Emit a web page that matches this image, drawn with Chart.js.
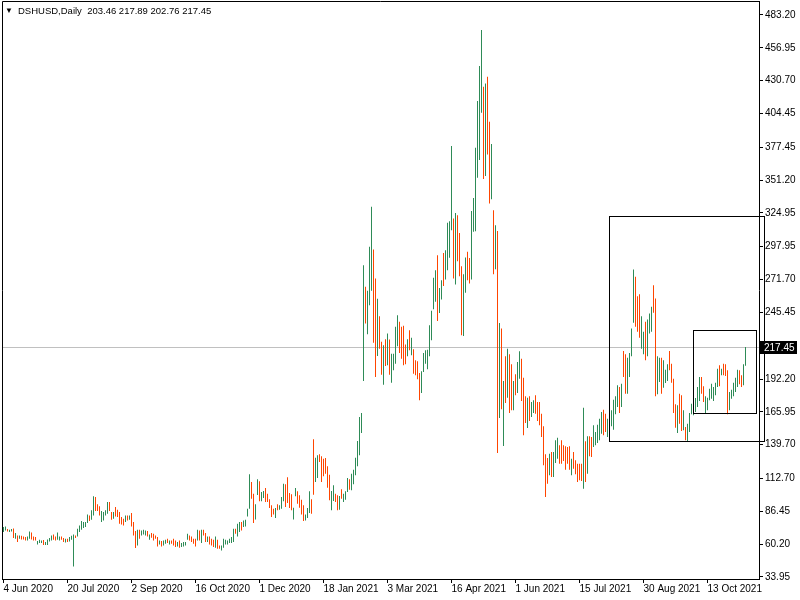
<!DOCTYPE html>
<html>
<head>
<meta charset="utf-8">
<script src="https://cdn.jsdelivr.net/npm/chart.js@4.4.1/dist/chart.umd.min.js"></script>
<style>
  html, body { margin: 0; padding: 0; background: #fff; }
  canvas { display: block; }
</style>
</head>
<body>
<canvas id="chart" width="800" height="600"></canvas>
<script>
// DSHUSD daily bars (weekdays only)
const symbol = "DSHUSD,Daily";

const highs = [
  73.9,74.4,72.3,71.7,72.3,72.8,69.1,67.2,67.2,66.9,66.4,65.9,66.4,70.4,69.6,66.4,
  65.9,62.7,63.7,63.2,63.5,61.9,64.0,65.1,67.2,68.0,66.4,69.6,66.4,66.4,65.1,64.5,
  64.5,65.9,66.9,68.0,67.2,72.5,75.2,78.7,77.9,77.9,84.0,83.2,87.2,98.4,97.9,92.0,
  90.4,86.7,85.9,87.2,93.9,93.9,85.9,85.9,89.9,87.7,85.9,81.9,80.5,83.2,83.2,83.2,
  85.1,77.9,70.7,71.7,71.7,71.2,71.7,71.2,70.7,68.0,69.1,68.5,67.2,65.9,63.2,62.7,
  63.2,63.7,64.5,63.2,63.2,64.5,63.2,61.9,63.2,61.1,61.9,61.9,68.5,67.2,66.4,64.5,
  64.5,71.7,71.2,71.7,71.7,69.1,66.4,66.4,64.5,63.7,66.4,63.7,59.2,59.2,64.5,63.7,
  63.2,64.5,65.9,72.5,72.5,76.5,77.9,77.9,79.2,79.7,88.5,116.0,109.9,100.5,92.0,112.0,
  110.5,101.9,102.7,105.1,100.5,96.0,91.2,88.5,89.1,92.0,91.2,97.9,108.5,108.0,113.6,101.1,
  100.0,89.3,105.1,102.4,99.2,95.7,91.2,84.0,89.1,102.4,96.0,144.0,129.3,131.2,132.0,130.4,
  128.5,129.1,122.4,115.7,102.7,107.2,100.5,99.2,98.7,104.0,100.5,102.4,113.1,112.0,116.5,119.7,
  129.3,142.7,161.9,165.1,283.2,265.9,262.7,297.9,329.9,295.7,272.5,256.3,242.4,221.9,219.2,224.0,
  228.5,223.7,212.5,212.5,233.9,243.2,237.9,233.9,234.7,219.7,224.0,231.2,225.1,216.0,207.2,206.4,
  197.1,198.4,213.1,215.2,215.7,235.2,246.7,273.1,279.2,291.2,265.0,271.2,293.0,295.2,317.1,318.4,
  378.4,320.5,325.0,323.2,309.0,282.4,276.0,289.3,293.9,289.0,326.6,337.0,377.1,414.4,442.4,471.2,
  425.9,428.5,433.9,397.9,380.0,327.2,315.2,310.6,237.0,232.5,190.7,210.4,216.5,212.0,204.0,190.7,
  196.0,205.9,214.4,208.5,193.3,178.4,177.3,178.4,173.9,175.2,179.2,173.9,173.9,164.5,154.4,132.0,
  129.1,132.5,133.9,133.9,143.2,145.3,139.2,143.2,139.2,138.4,137.9,138.4,128.5,133.9,127.2,124.5,
  124.5,124.5,169.3,142.4,146.4,146.4,145.9,155.2,149.9,155.7,160.5,165.9,167.7,164.5,160.5,164.0,
  167.2,175.7,178.4,187.2,185.9,188.5,214.7,212.0,209.3,213.1,232.5,279.7,273.9,258.4,260.0,242.4,
  229.9,237.9,239.7,244.5,249.9,267.2,256.5,210.4,209.3,209.3,207.2,199.7,204.0,214.7,204.5,192.5,
  172.0,171.2,180.5,179.2,167.2,153.9,156.5,165.1,172.5,175.2,177.1,185.9,193.9,193.9,186.4,178.4,
  177.3,184.5,188.5,185.9,189.3,200.5,203.2,200.5,204.5,204.0,199.2,181.9,183.7,189.3,193.3,199.7,
  199.2,195.2,204.0,217.89
];

const lows = [
  69.9,71.2,70.4,69.9,70.4,65.1,64.5,61.9,64.5,64.0,64.0,63.2,63.2,64.5,64.0,63.2,
  63.2,60.0,61.1,61.1,59.5,59.5,59.5,62.4,63.2,63.7,63.2,63.7,63.2,63.7,61.9,61.6,
  61.9,62.4,63.7,42.4,65.1,66.4,69.9,71.7,73.1,73.9,77.1,78.7,79.7,83.2,86.7,86.7,
  83.2,77.9,79.2,83.2,84.5,86.7,79.7,80.5,82.4,81.9,76.5,76.0,75.2,77.9,79.2,79.7,
  74.4,67.2,57.1,59.2,64.5,67.2,68.0,67.2,66.4,63.7,65.3,63.2,64.5,58.4,60.0,58.4,
  59.2,60.5,61.1,60.0,60.5,59.2,57.9,58.4,57.3,57.9,58.4,59.2,63.7,63.2,61.9,60.5,
  58.4,63.2,63.2,61.1,67.2,61.9,61.9,60.0,59.2,57.9,57.3,56.5,56.5,55.2,57.3,60.0,
  60.0,61.1,61.1,61.9,68.5,66.4,69.9,71.2,73.9,74.4,82.4,88.5,96.5,77.1,80.0,99.5,
  94.5,94.4,97.1,93.9,93.9,89.1,81.9,84.0,81.1,87.2,87.7,88.5,94.4,89.9,93.1,89.1,
  87.2,80.0,98.4,92.5,89.3,84.0,78.7,79.2,81.1,85.1,84.5,99.7,109.9,113.1,125.9,109.9,
  114.4,116.5,105.3,95.2,87.2,94.7,93.9,87.2,87.7,96.5,93.9,95.7,101.9,103.7,103.2,108.0,
  115.2,122.4,131.2,149.1,190.7,236.5,228.0,251.2,262.7,221.1,193.9,210.7,216.5,195.7,187.7,202.7,
  203.2,195.7,189.3,199.2,204.5,218.4,213.1,208.5,203.2,204.0,210.4,215.2,211.2,196.5,195.2,192.0,
  175.2,181.1,197.9,204.5,200.0,210.4,223.2,248.0,253.9,238.6,245.0,255.7,266.6,271.7,279.2,289.1,
  311.2,272.5,267.7,286.4,274.4,227.2,226.6,261.1,271.2,268.5,271.7,309.9,310.4,353.1,367.2,405.1,
  352.0,354.4,371.7,332.5,336.0,276.0,280.0,133.1,161.0,168.0,138.7,173.1,177.3,165.1,167.2,167.2,
  179.2,181.1,192.5,174.7,147.2,157.1,153.1,158.7,161.9,165.1,164.5,158.7,155.2,145.9,123.2,97.9,
  108.5,115.2,113.9,113.9,125.1,128.5,124.5,124.5,126.7,119.7,124.5,119.7,115.2,120.5,116.0,109.9,
  111.2,110.7,104.5,109.9,116.5,130.4,129.9,137.9,139.2,141.1,143.2,148.5,147.2,149.9,145.9,149.9,
  154.4,151.7,164.0,169.9,165.1,169.9,193.9,180.5,180.5,193.9,210.4,237.1,233.9,229.9,225.1,216.5,
  212.0,207.2,210.4,228.5,229.9,245.1,178.4,180.0,189.9,180.5,185.3,189.1,190.7,199.2,189.3,165.1,
  153.3,149.1,156.5,150.7,151.2,143.2,141.9,149.9,164.0,163.2,165.9,169.9,174.7,180.5,173.9,165.1,
  167.2,175.2,176.5,174.7,179.2,185.9,186.4,195.2,195.2,194.7,164.0,167.2,176.5,178.4,181.9,185.9,
  188.0,185.9,187.2,202.76
];

// 1 = close above open (green), 0 = close below open (red)
const upDay = [
  1,1,0,1,1,0,1,0,1,0,0,0,1,1,0,0,
  0,1,1,1,0,1,1,1,1,0,0,1,1,0,0,1,
  0,1,1,1,0,1,1,1,1,1,1,0,1,1,0,0,
  0,1,1,1,1,0,0,1,0,0,0,0,0,1,0,1,
  0,0,0,1,0,1,1,1,0,1,0,0,0,0,1,0,
  1,1,0,1,0,0,0,1,0,1,1,1,1,0,0,0,
  0,1,0,1,0,0,1,0,0,0,1,0,0,1,1,1,
  1,1,1,1,0,1,1,0,1,1,1,1,0,0,1,1,
  0,1,1,0,0,0,0,0,1,0,1,1,1,0,0,0,
  0,1,1,0,0,0,0,1,1,1,0,0,1,1,0,0,
  0,0,0,0,1,1,0,0,1,0,1,1,1,0,1,1,
  1,1,1,1,1,0,1,1,1,0,0,1,0,0,1,0,
  1,0,1,1,1,1,0,0,0,0,1,0,1,0,0,0,
  0,1,1,1,1,1,1,1,1,0,1,1,0,1,1,1,
  1,0,1,0,0,0,1,1,0,0,1,1,1,1,1,1,
  0,1,0,0,1,0,1,0,1,0,1,0,1,0,0,1,
  0,1,1,0,0,0,1,0,1,1,0,0,0,0,0,0,
  0,1,0,1,1,1,0,0,0,0,0,0,1,0,0,0,
  0,0,1,0,1,0,0,1,1,1,1,1,0,0,1,0,
  1,1,1,1,0,1,0,0,1,1,1,1,0,0,0,1,
  1,0,1,1,1,0,0,1,1,0,1,1,1,0,0,0,
  0,1,0,0,1,0,1,1,1,1,1,1,1,0,0,1,
  1,1,1,1,1,1,0,1,0,0,0,1,1,1,1,1,
  0,0,1,1
];

// last bar O H L C, shown in the header
const lastOpen = 203.46;
const lastClose = 217.45;

const priceTicks = [483.20, 456.95, 430.70, 404.45, 377.45, 351.20, 324.95, 297.95,
  271.70, 245.45, 192.20, 165.95, 139.70, 112.70, 86.45, 60.20, 33.95];

const dateTickIndex = [0, 32, 64, 96, 128, 160, 192, 224, 256, 288, 320, 352];
const dateTickLabels = ["4 Jun 2020", "20 Jul 2020", "2 Sep 2020", "16 Oct 2020", "1 Dec 2020",
  "18 Jan 2021", "3 Mar 2021", "16 Apr 2021", "1 Jun 2021", "15 Jul 2021", "30 Aug 2021", "13 Oct 2021"];

// rectangles drawn on the chart (bar index / price)
const boxes = [
  { from: 302.5, to: 380, top: 322.5, bottom: 142.7 },
  { from: 344.5, to: 376, top: 231.4, bottom: 165.0 }
];

const UP = "#2e8b57";
const DOWN = "#ff4500";
const FONT = "Tahoma, 'Liberation Sans', Arial, sans-serif";

const overlay = {
  id: "overlay",
  beforeDatasetsDraw(chart) {
    const { ctx, chartArea: a, scales: { y } } = chart;
    const py = Math.round(y.getPixelForValue(lastClose)) + 0.5;
    ctx.save();
    ctx.strokeStyle = "#c0c0c0";
    ctx.lineWidth = 1;
    ctx.beginPath();
    ctx.moveTo(a.left, py);
    ctx.lineTo(a.right, py);
    ctx.stroke();
    ctx.restore();
  },
  afterDraw(chart) {
    const { ctx, chartArea: a, scales: { x, y } } = chart;
    ctx.save();
    ctx.strokeStyle = "#000";
    ctx.lineWidth = 1;

    // top and left frame
    ctx.beginPath();
    ctx.moveTo(a.left + 0.5, a.bottom);
    ctx.lineTo(a.left + 0.5, a.top + 0.5);
    ctx.lineTo(a.right, a.top + 0.5);
    ctx.stroke();

    // rectangles
    boxes.forEach(b => {
      const x1 = Math.round(x.getPixelForValue(b.from)) + 0.5;
      const x2 = Math.round(x.getPixelForValue(b.to)) + 0.5;
      const y1 = Math.round(y.getPixelForValue(b.top)) + 0.5;
      const y2 = Math.round(y.getPixelForValue(b.bottom)) + 0.5;
      ctx.strokeRect(x1, y1, x2 - x1, y2 - y1);
    });

    // current price label
    const py = Math.round(y.getPixelForValue(lastClose));
    ctx.fillStyle = "#000";
    ctx.fillRect(a.right + 1, py - 6, 37, 13);
    ctx.fillStyle = "#fff";
    ctx.font = "10px " + FONT;
    ctx.textBaseline = "middle";
    ctx.textAlign = "left";
    ctx.fillText(lastClose.toFixed(2), a.right + 5, py + 1);

    // header
    const last = highs.length - 1;
    ctx.fillStyle = "#000";
    ctx.font = "8px " + FONT;
    ctx.fillText("\u25BC", 5, 11);
    ctx.font = "9.5px " + FONT;
    ctx.fillText(symbol + "  " + lastOpen.toFixed(2) + " " + highs[last].toFixed(2) + " " +
      lows[last].toFixed(2) + " " + lastClose.toFixed(2), 18, 11);
    ctx.restore();
  }
};

new Chart(document.getElementById("chart"), {
  type: "bar",
  data: {
    datasets: [{
      data: highs.map((h, i) => ({ x: i, y: [lows[i], h] })),
      backgroundColor: upDay.map(u => u ? UP : DOWN),
      barThickness: 1,
      borderWidth: 0,
      inflateAmount: 0,
      grouped: false
    }]
  },
  options: {
    responsive: false,
    animation: false,
    devicePixelRatio: 1,
    layout: { padding: { top: 1, left: 2, right: 0, bottom: 0 } },
    plugins: { legend: { display: false }, tooltip: { enabled: false } },
    scales: {
      x: {
        type: "linear",
        min: -0.75,
        max: 377.75,
        offset: false,
        grid: { drawOnChartArea: false, offset: false, tickLength: 4, color: "#000" },
        border: { color: "#000" },
        afterBuildTicks: s => { s.ticks = dateTickIndex.map(v => ({ value: v })); },
        afterFit: s => { s.height = 21; s.paddingLeft = 0; s.paddingRight = 0; },
        ticks: {
          autoSkip: false, maxRotation: 0, minRotation: 0, align: "start", padding: 0,
          color: "#000", font: { family: FONT, size: 10 },
          callback: v => dateTickLabels[dateTickIndex.indexOf(v)]
        }
      },
      y: {
        position: "right",
        min: 32.34,
        max: 494.39,
        grid: { drawOnChartArea: false, tickLength: 4, color: "#000" },
        border: { color: "#000" },
        afterBuildTicks: s => { s.ticks = priceTicks.map(v => ({ value: v })); },
        afterFit: s => { s.width = 41; s.paddingTop = 0; s.paddingBottom = 0; },
        ticks: {
          padding: 2, color: "#000", font: { family: FONT, size: 10 },
          callback: v => v.toFixed(2)
        }
      }
    }
  },
  plugins: [overlay]
});
</script>
</body>
</html>
